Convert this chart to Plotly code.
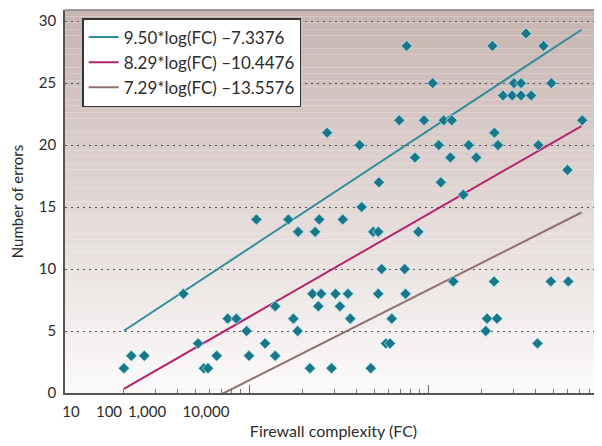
import plotly.graph_objects as go
import math

# ---- data ----
FC = [20, 22, 26, 43, 52, 56, 59, 66, 76, 85, 97, 100, 110, 123, 140, 140, 166, 177, 187, 188,
      219, 226, 234, 244, 247, 253, 273, 289, 304, 322, 334, 357, 368, 415, 426, 479, 494, 527,
      527, 532, 551, 582, 613, 627, 691, 741, 749, 760, 846, 883, 950, 1062, 1148, 1180, 1224,
      1333, 1357, 1385, 1574, 1690, 1862, 2104, 2138, 2288, 2338, 2350, 2429, 2460, 2625, 2953,
      3022, 3309, 3309, 3527, 3773, 4089, 4131, 4419, 4852, 4887, 6013, 6080, 7268]
ERRORS = [2, 3, 3, 8, 4, 2, 2, 3, 6, 6, 5, 3, 14, 4, 7, 3, 14, 6, 5, 13,
          2, 8, 13, 7, 14, 8, 21, 2, 8, 7, 14, 8, 6, 20, 15, 2, 13, 13,
          8, 17, 10, 4, 4, 6, 22, 10, 8, 28, 19, 13, 22, 25, 20, 17, 22,
          19, 22, 9, 16, 20, 19, 5, 6, 28, 9, 21, 6, 20, 24, 24,
          25, 24, 25, 29, 24, 4, 20, 28, 9, 25, 18, 9, 22]

FIT_NAMES = ["9.50*log(FC) \u20137.3376", "8.29*log(FC) \u201310.4476", "7.29*log(FC) \u201313.5576"]
FIT_SLOPES = [9.50, 8.29, 7.29]
FIT_INTERCEPTS = [-7.3376, -10.4476, -13.5576]
FIT_FC_RANGE = [20, 7200]

Y_TICKS = [0, 5, 10, 15, 20, 25, 30]
X_TICK_TEXT = ["10", "100", "1,000", "10,000"]

# ---- styling ----
FONT = "Lato, 'Open Sans', sans-serif"
TXT = "#2b2b2b"
LINE_COLORS = ["#2f8d9b", "#b2246c", "#8f7070"]
MARK = "#1b7689"

fig = go.Figure()

# gradient background bands
N = 60
top = (199, 180, 176)
bot = (252, 250, 250)
shapes = []
for i in range(N):
    t = (i + 0.5) / N
    c = tuple(round(bot[k] + (top[k] - bot[k]) * t) for k in range(3))
    shapes.append(dict(type="rect", xref="x domain", yref="y domain",
                       x0=0, x1=1, y0=i / N, y1=(i + 1) / N,
                       fillcolor="rgb(%d,%d,%d)" % c, line=dict(width=0), layer="below"))
shapes.append(dict(type="line", xref="x domain", yref="y domain", x0=0, x1=1, y0=1, y1=1,
                   line=dict(color="#8a8080", width=1.5)))

for name, a, b, col in zip(FIT_NAMES, FIT_SLOPES, FIT_INTERCEPTS, LINE_COLORS):
    xs = FIT_FC_RANGE
    ys = [a * math.log10(v) + b for v in xs]
    fig.add_trace(go.Scatter(x=xs, y=ys, mode="lines", name=name,
                             line=dict(color=col, width=2), hoverinfo="skip"))

fig.add_trace(go.Scatter(x=FC, y=ERRORS, mode="markers", showlegend=False,
                         marker=dict(symbol="diamond", size=8.5, color=MARK,
                                     line=dict(color="rgba(160,225,238,0.9)", width=1))))

fig.add_trace(go.Scatter(x=[], y=[], xaxis="x2", showlegend=False))

lo, hi = 0.972, 3.972
label_pos = [10 ** (1 + (p - 70) / 179) for p in (71, 109, 147, 206)]
minor_vals = [m * 10 ** d for d in (1, 2, 3) for m in range(2, 10)]

fig.update_layout(
    width=594, height=438,
    margin=dict(l=57, r=0, t=2, b=53),
    paper_bgcolor="white",
    plot_bgcolor="white",
    font=dict(family=FONT, color=TXT, size=15),
    shapes=shapes,
    showlegend=True,
    legend=dict(x=0.032, y=0.979, xanchor="left", yanchor="top",
                bgcolor="white", bordercolor="#333333", borderwidth=1.5,
                font=dict(size=17, color=TXT), tracegroupgap=0),
    xaxis=dict(type="log", range=[lo, hi], showgrid=False, zeroline=False, automargin=False,
               showline=True, linecolor="#555555", linewidth=1.5,
               tickmode="array", tickvals=[100, 1000], ticks="inside", ticklen=8,
               tickcolor="#666666", showticklabels=False,
               minor=dict(tickmode="array", tickvals=minor_vals, ticks="inside",
                          ticklen=4, tickcolor="#777777", showgrid=False),
               title=dict(text="Firewall complexity (FC)", font=dict(size=16), standoff=32)),
    xaxis2=dict(type="log", range=[lo, hi], overlaying="x", anchor="y", side="bottom",
                showgrid=False, zeroline=False, showline=False, automargin=False,
                tickmode="array", tickvals=label_pos, ticktext=X_TICK_TEXT,
                ticks="", tickfont=dict(size=15), ticklabelstandoff=8),
    yaxis=dict(range=[0, 30.9], tickmode="array", tickvals=Y_TICKS, automargin=False,
               showgrid=True, gridcolor="#555555", gridwidth=1, griddash="2px,4px",
               zeroline=False, showline=True, linecolor="#555555", linewidth=1.5,
               ticks="", tickfont=dict(size=15), ticklabelstandoff=4,
               title=dict(text="Number of errors", font=dict(size=15), standoff=22)),
    hovermode=False,
)

fig.write_html("out.html")
